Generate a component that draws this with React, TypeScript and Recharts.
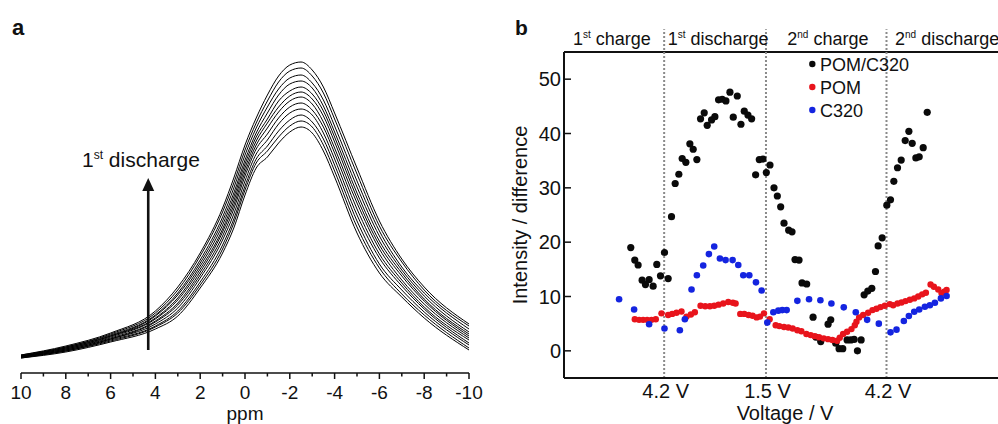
import React from "react";
import { LineChart, Line, XAxis, YAxis, ScatterChart, Scatter, ReferenceLine } from "recharts";

const FONT = '"Liberation Sans", Arial, Helvetica, sans-serif';
const INK = "#111";

// ---------- Panel a : NMR spectra ----------
const ppm = [10, 8, 6, 4, 3, 2, 1, 0.5, 0, -0.5, -1, -1.5, -2, -2.5, -3, -3.5, -4, -5, -6, -7, -8, -10];
const spectrum01 = [18, 27, 40, 62, 86, 120, 165, 195, 228, 255, 278, 297, 308, 311, 303, 286, 260, 205, 152, 114, 86, 49];
const spectrum02 = [18, 26, 39, 60, 83, 117, 161, 190, 223, 250, 272, 291, 302, 305, 297, 280, 254, 199, 147, 111, 83, 47];
const spectrum03 = [17, 26, 38, 58, 80, 113, 156, 185, 218, 245, 266, 284, 295, 298, 290, 273, 247, 192, 142, 106, 80, 44];
const spectrum04 = [17, 25, 37, 57, 78, 110, 152, 180, 213, 240, 260, 278, 289, 292, 285, 267, 241, 186, 137, 103, 77, 41];
const spectrum05 = [17, 25, 37, 55, 75, 107, 148, 176, 209, 236, 254, 272, 282, 286, 279, 262, 236, 180, 132, 100, 74, 39];
const spectrum06 = [17, 24, 36, 54, 73, 104, 144, 172, 205, 232, 250, 266, 277, 281, 274, 257, 231, 175, 128, 97, 72, 37];
const spectrum07 = [16, 24, 35, 52, 70, 101, 141, 168, 201, 228, 245, 261, 272, 276, 269, 251, 225, 170, 124, 93, 69, 35];
const spectrum08 = [16, 23, 34, 51, 68, 98, 137, 164, 197, 224, 239, 255, 266, 270, 263, 246, 220, 164, 119, 90, 66, 33];
const spectrum09 = [16, 23, 34, 49, 65, 95, 133, 159, 192, 219, 233, 249, 260, 264, 258, 240, 214, 158, 115, 87, 64, 30];
const spectrum10 = [16, 22, 33, 47, 62, 91, 128, 154, 187, 214, 227, 242, 253, 258, 251, 234, 208, 152, 109, 83, 61, 28];
const spectrum11 = [15, 22, 32, 46, 60, 88, 124, 150, 183, 210, 222, 236, 247, 252, 246, 228, 202, 146, 105, 79, 58, 25];
const spectrum12 = [15, 21, 31, 44, 57, 85, 120, 145, 178, 205, 216, 230, 241, 246, 240, 222, 196, 140, 100, 76, 55, 23];
const spectra = [spectrum01, spectrum02, spectrum03, spectrum04, spectrum05, spectrum06, spectrum07, spectrum08, spectrum09, spectrum10, spectrum11, spectrum12];
const ppmTicks = [10, 9, 8, 7, 6, 5, 4, 3, 2, 1, 0, -1, -2, -3, -4, -5, -6, -7, -8, -9, -10];
const arrowPpm = 4.32;
const arrowFrom = 23;
const arrowTo = 195;

const spectraRows = ppm.map((p, i) => {
  const row: Record<string, number> = { ppm: p };
  spectra.forEach((s, k) => {
    row["s" + k] = s[i];
  });
  return row;
});

// ---------- Panel b : intensity vs voltage ----------
const pomC320T = [20.0, 21.2, 22.2, 23.4, 24.4, 25.5, 26.7, 27.8, 28.9, 30.1, 31.2, 32.2, 33.3, 34.4, 35.4, 36.5, 37.7, 38.7, 39.8, 40.9, 42.0, 42.9, 44.2, 45.2, 46.3, 47.4, 48.5, 49.7, 50.7, 51.9, 53.0, 54.0, 55.1, 56.2, 57.4, 58.5, 59.6, 60.6, 61.7, 62.9, 63.9, 64.9, 65.9, 67.3, 68.3, 69.2, 70.4, 71.3, 72.7, 74.6, 75.5, 76.9, 79.1, 79.9, 81.4, 82.4, 83.5, 84.8, 85.9, 86.9, 87.9, 89.0, 89.9, 91.0, 92.2, 93.3, 94.1, 95.3, 96.7, 97.8, 98.8, 99.9, 101.0, 102.2, 103.3, 104.3, 105.4, 106.4, 107.6, 108.8];
const pomC320V = [19.0, 16.7, 15.8, 13.0, 12.2, 13.1, 11.9, 15.9, 13.8, 18.1, 13.3, 24.7, 30.8, 32.5, 35.4, 34.7, 38.1, 37.1, 35.2, 42.7, 43.8, 41.5, 42.5, 43.1, 46.2, 46.3, 46.0, 47.6, 43.0, 46.9, 41.7, 44.1, 43.4, 42.7, 32.4, 35.2, 35.3, 32.8, 34.2, 30.0, 28.5, 26.5, 23.5, 22.2, 21.9, 16.8, 16.7, 12.5, 12.3, 6.2, 2.5, 1.7, 4.9, 5.7, 1.4, 0.4, 0.4, 2.0, 2.0, 2.1, 0.0, 2.0, 10.3, 11.0, 11.5, 14.6, 19.3, 20.8, 26.8, 27.8, 31.2, 33.7, 35.1, 38.7, 40.4, 38.2, 35.5, 35.7, 37.4, 43.9];

const pomT = [21.2, 22.5, 23.7, 24.9, 26.2, 27.5, 29.2, 31.2, 32.4, 33.7, 35.2, 36.7, 38.0, 39.2, 40.9, 42.3, 43.7, 45.0, 46.3, 47.7, 49.2, 50.6, 51.4, 52.8, 54.0, 55.3, 56.5, 57.7, 58.7, 59.9, 61.6, 63.4, 64.5, 65.9, 67.2, 68.5, 69.9, 71.1, 72.6, 73.9, 75.1, 76.4, 77.8, 79.1, 80.4, 81.8, 82.6, 83.6, 84.8, 86.1, 87.1, 87.6, 88.4, 89.6, 91.1, 92.4, 93.6, 94.8, 96.1, 97.6, 98.6, 99.9, 101.1, 102.3, 103.6, 104.9, 106.1, 107.3, 108.4, 109.8, 110.8, 112.1, 113.1, 113.9, 114.6];
const pomV = [5.8, 5.7, 5.7, 5.7, 5.7, 5.8, 6.9, 6.6, 6.8, 7.0, 7.25, 6.3, 6.7, 7.1, 8.3, 8.2, 8.2, 8.3, 8.5, 8.7, 9.0, 8.85, 8.7, 6.8, 6.8, 6.6, 6.45, 6.15, 6.3, 6.9, 5.8, 4.7, 4.55, 4.4, 4.3, 4.1, 3.8, 3.6, 3.1, 2.9, 2.7, 2.5, 2.3, 2.15, 2.0, 1.85, 2.4, 3.1, 3.5, 4.0, 4.7, 5.35, 6.15, 6.6, 7.0, 7.5, 7.75, 8.05, 8.3, 8.6, 8.4, 8.7, 8.9, 9.15, 9.4, 9.65, 10.0, 10.4, 10.7, 12.2, 11.8, 11.3, 10.6, 10.9, 11.2];

const c320T = [16.5, 21.0, 25.5, 30.1, 34.7, 36.2, 38.2, 39.8, 41.7, 43.4, 45.0, 46.7, 48.4, 50.5, 52.2, 53.7, 55.5, 57.5, 59.2, 60.9, 62.7, 64.2, 65.4, 66.7, 69.9, 73.4, 76.8, 80.1, 83.8, 87.4, 90.8, 94.3, 97.8, 99.6, 101.8, 103.3, 104.9, 106.4, 108.1, 109.6, 111.1, 112.9, 114.6];
const c320V = [9.5, 7.6, 4.9, 4.1, 3.8, 5.8, 11.3, 13.9, 15.7, 17.8, 19.2, 17.0, 16.7, 16.7, 15.8, 13.9, 13.9, 12.6, 11.1, 5.2, 7.1, 7.4, 7.5, 7.5, 9.2, 9.5, 9.3, 8.7, 8.0, 7.1, 5.7, 5.0, 3.4, 3.9, 5.5, 6.4, 7.2, 7.6, 8.1, 8.4, 8.85, 9.65, 10.1];

const voltageTickPos = [30, 60.5, 96.6];
const voltageTickLabels = ["4.2 V", "1.5 V", "4.2 V"];
const intensityTicks = [0, 10, 20, 30, 40, 50];
const seriesNames = ["POM/C320", "POM", "C320"];
const seriesColors = ["#0a0a0a", "#e8141c", "#1424e0"];

const toPoints = (ts: number[], vs: number[]) => ts.map((t, i) => ({ t, v: vs[i] }));
const pomC320Data = toPoints(pomC320T, pomC320V);
const pomData = toPoints(pomT, pomV);
const c320Data = toPoints(c320T, c320V);

// ---------- renderers ----------
const PpmTick = (props: any) => {
  const { x, y, payload } = props;
  const v = payload.value;
  const major = v % 2 === 0;
  return (
    <g>
      <line x1={x} x2={x} y1={y} y2={y + (major ? 6 : 3.5)} stroke={INK} strokeWidth={1.5} />
      {major && (
        <text x={x} y={y + 26} textAnchor="middle" fontSize={19} fontFamily={FONT} fill={INK}>
          {String(v)}
        </text>
      )}
    </g>
  );
};

const VoltTick = (props: any) => {
  const { x, y, payload } = props;
  const idx = voltageTickPos.indexOf(payload.value);
  return (
    <text x={x + 1.5} y={y + 20} textAnchor="middle" fontSize={20} fontFamily={FONT} fill={INK}>
      {voltageTickLabels[idx]}
    </text>
  );
};

const IntensityTick = (props: any) => {
  const { x, y, payload } = props;
  return (
    <g>
      <line x1={x} x2={x + 7} y1={y} y2={y} stroke={INK} strokeWidth={1.5} />
      <text x={x - 3} y={y + 7} textAnchor="end" fontSize={20} fontFamily={FONT} fill={INK}>
        {String(payload.value)}
      </text>
    </g>
  );
};

const ArrowShape = (props: any) => {
  const { x1, y1, y2 } = props;
  const bottom = Math.max(y1, y2);
  const tip = Math.min(y1, y2);
  const x = x1;
  return (
    <g>
      <line x1={x} x2={x} y1={bottom} y2={tip + 11} stroke={INK} strokeWidth={2.6} />
      <polygon points={`${x},${tip} ${x - 6},${tip + 13} ${x + 6},${tip + 13}`} fill={INK} />
    </g>
  );
};

const dotShape = (color: string, r: number) => (props: any) => (
  <circle cx={props.cx} cy={props.cy} r={r} fill={color} />
);

export default function App() {
  return (
    <div
      style={{
        position: "absolute",
        left: 0,
        top: 0,
        width: 998,
        height: 424,
        overflow: "hidden",
        background: "#fff",
        fontFamily: FONT,
      }}
    >
      {/* Panel a */}
      <div style={{ position: "absolute", left: 0, top: 0 }}>
        <LineChart width={500} height={424} data={spectraRows} margin={{ top: 53, right: 31, left: 21, bottom: 11 }}>
          <XAxis
            dataKey="ppm"
            type="number"
            domain={[-10, 10]}
            reversed
            ticks={ppmTicks}
            interval={0}
            tickSize={0}
            tickMargin={0}
            tickLine={false}
            tick={<PpmTick />}
            height={40}
            axisLine={{ stroke: INK, strokeWidth: 1.5 }}
            label={{
              content: (p: any) => (
                <text x={p.viewBox.x + p.viewBox.width / 2} y={420} textAnchor="middle" fontSize={19} fontFamily={FONT} fill={INK}>
                  ppm
                </text>
              ),
            }}
          />
          <YAxis type="number" domain={[0, 320]} hide />
          {spectra.map((_, k) => (
            <Line
              key={k}
              dataKey={"s" + k}
              type="monotone"
              stroke="#000"
              strokeWidth={1}
              dot={false}
              isAnimationActive={false}
            />
          ))}
          <ReferenceLine
            segment={[
              { x: arrowPpm, y: arrowFrom },
              { x: arrowPpm, y: arrowTo },
            ]}
            ifOverflow="visible"
            shape={<ArrowShape />}
          />
        </LineChart>
      </div>

      {/* Panel b */}
      <div style={{ position: "absolute", left: 500, top: 0 }}>
        <ScatterChart width={508} height={424} margin={{ top: 52, right: 10, left: 14, bottom: 6 }}>
          <XAxis
            dataKey="t"
            type="number"
            domain={[0, 130]}
            ticks={voltageTickPos}
            interval={0}
            tickSize={0}
            tickMargin={0}
            tickLine={false}
            tick={<VoltTick />}
            height={40}
            axisLine={{ stroke: INK, strokeWidth: 2 }}
            label={{
              content: () => (
                <text x={285} y={420} textAnchor="middle" fontSize={20} fontFamily={FONT} fill={INK}>
                  Voltage / V
                </text>
              ),
            }}
          />
          <YAxis
            dataKey="v"
            type="number"
            domain={[-5, 55]}
            ticks={intensityTicks}
            interval={0}
            tickSize={0}
            tickMargin={0}
            tickLine={false}
            tick={<IntensityTick />}
            width={50}
            axisLine={{ stroke: INK, strokeWidth: 2 }}
            label={{
              content: () => (
                <text
                  x={26.5}
                  y={215}
                  transform="rotate(-90 26.5 215)"
                  textAnchor="middle"
                  fontSize={20}
                  fontFamily={FONT}
                  fill={INK}
                >
                  Intensity / difference
                </text>
              ),
            }}
          />
          <ReferenceLine y={55} stroke={INK} strokeWidth={2} ifOverflow="visible" />
          {voltageTickPos.map((t) => (
            <ReferenceLine
              key={t}
              segment={[
                { x: t, y: -5 },
                { x: t, y: 59.2 },
              ]}
              stroke="#8a8a8a"
              strokeWidth={2}
              strokeDasharray="2 2"
              ifOverflow="visible"
            />
          ))}
          <Scatter name={seriesNames[0]} data={pomC320Data} fill={seriesColors[0]} shape={dotShape(seriesColors[0], 3.6)} isAnimationActive={false} />
          <Scatter name={seriesNames[1]} data={pomData} fill={seriesColors[1]} shape={dotShape(seriesColors[1], 3.2)} isAnimationActive={false} />
          <Scatter name={seriesNames[2]} data={c320Data} fill={seriesColors[2]} shape={dotShape(seriesColors[2], 3.3)} isAnimationActive={false} />
        </ScatterChart>
      </div>

      {/* Annotations and legend */}
      <svg width={998} height={424} style={{ position: "absolute", left: 0, top: 0, pointerEvents: "none" }}>
        <text x={12} y={35} fontSize={22} fontWeight="bold" fontFamily={FONT} fill={INK}>a</text>
        <text x={515} y={35} fontSize={21} fontWeight="bold" fontFamily={FONT} fill={INK}>b</text>
        <text x={82} y={167} fontSize={21} fontFamily={FONT} fill={INK}>
          1<tspan fontSize={12} dy={-8}>st</tspan>
          <tspan fontSize={21} dy={8}> discharge</tspan>
        </text>
        <text x={573} y={45} fontSize={18} fontFamily={FONT} fill={INK}>
          1<tspan fontSize={10} dy={-7}>st</tspan>
          <tspan fontSize={18} dy={7}> charge</tspan>
        </text>
        <text x={667.7} y={45} fontSize={18} fontFamily={FONT} fill={INK}>
          1<tspan fontSize={10} dy={-7}>st</tspan>
          <tspan fontSize={18} dy={7}> discharge</tspan>
        </text>
        <text x={787.3} y={45} fontSize={18} fontFamily={FONT} fill={INK}>
          2<tspan fontSize={10} dy={-7}>nd</tspan>
          <tspan fontSize={18} dy={7}> charge</tspan>
        </text>
        <text x={895} y={45} fontSize={18} fontFamily={FONT} fill={INK}>
          2<tspan fontSize={10} dy={-7}>nd</tspan>
          <tspan fontSize={18} dy={7}> discharge</tspan>
        </text>
        {seriesNames.map((n, i) => (
          <g key={n}>
            <circle cx={812.3} cy={64 + i * 23} r={3.2} fill={seriesColors[i]} />
            <text x={820} y={64 + i * 23 + 6.5} fontSize={18} fontFamily={FONT} fill={INK}>
              {n}
            </text>
          </g>
        ))}
      </svg>
    </div>
  );
}
